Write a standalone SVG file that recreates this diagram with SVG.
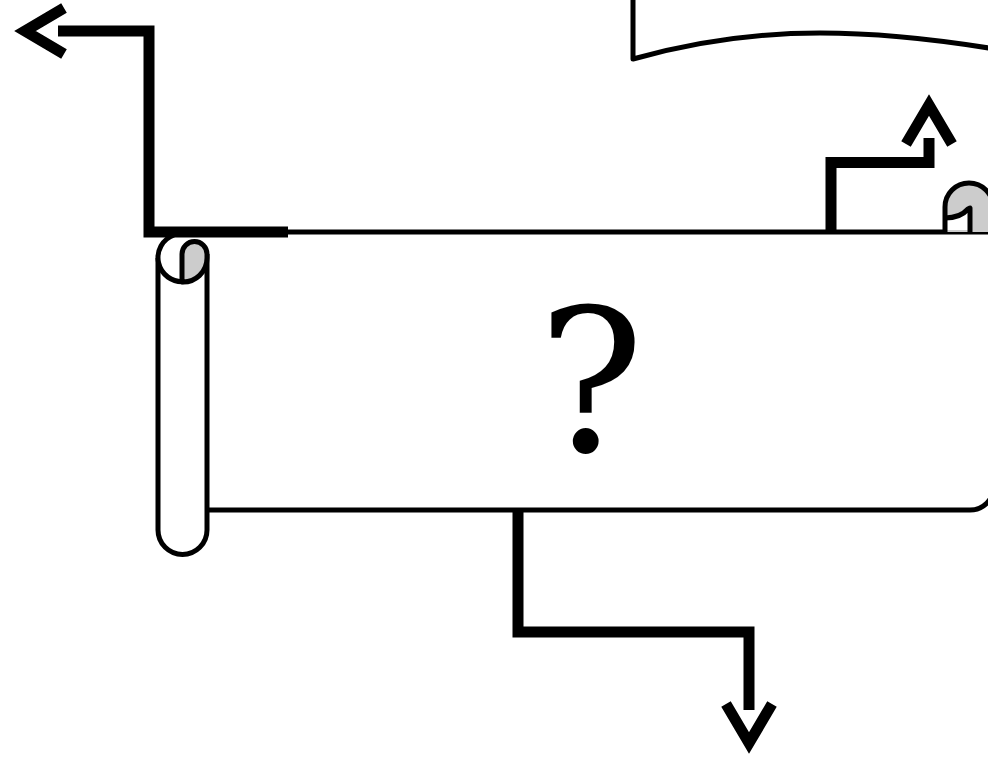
<svg xmlns="http://www.w3.org/2000/svg" width="988" height="758" viewBox="0 0 988 758">
  <defs>
    <style>
      .shape { stroke: #000; stroke-width: 5; stroke-linejoin: round; }
      .conn { fill: none; stroke: #000; stroke-width: 11; stroke-linejoin: miter; stroke-linecap: butt; }
      .label { font-family: "DejaVu Serif", "Liberation Serif", serif; font-size: 198px; fill: #000; }
    </style>
    <marker id="openArrow" markerUnits="userSpaceOnUse" markerWidth="100" markerHeight="100" refX="0" refY="0" orient="auto" overflow="visible" viewBox="-50 -50 100 100">
      <path d="M-6,-23 L33,0 L-6,23" fill="none" stroke="#000" stroke-width="11" stroke-linejoin="miter" stroke-miterlimit="10"/>
    </marker>
  </defs>
  <rect width="988" height="758" fill="#fff"/>

  <g id="document">
    <path class="shape" fill="#fff" d="M633,-5 V59 C700,40 760,33 820,33 C880,33 940,40 995,49 V-5 Z"/>
  </g>

  <g id="scroll">
    <path fill="#fff" stroke="none" d="M182,232 H996 V486 A24,24 0 0 1 972,510 H207 Z"/>
    <path class="shape" fill="none" d="M182,232 H996"/>
    <path class="shape" fill="none" d="M207,510 H970 A24,24 0 0 0 994,486"/>
    <path fill="#ccc" stroke="none" d="M945,232 V207 A24,24 0 0 1 993,207 V232 Z"/>
    <path fill="#fff" stroke="none" d="M945,230 V218 C953,218 962,216 968,209 L970,209 V230 Z"/>
    <path class="shape" fill="none" d="M945,232 V207 A24,24 0 0 1 993,207"/>
    <path class="shape" fill="none" d="M945,218 C953,218 962,216 968,209 L970,208 V232"/>
    <path class="shape" fill="#fff" d="M158,258 V530 A24.5,24.5 0 0 0 207,530 V254"/>
    <path class="shape" fill="#fff" d="M174,235 A24,24 0 1 0 206,258"/>
    <path class="shape" fill="#ccc" d="M182,282 V254 A12.5,12.5 0 0 1 207,254 V258 A24,24 0 0 1 182,282 Z"/>
    <text class="label" x="591" y="451" text-anchor="middle">?</text>
  </g>

  <g id="connectors">
    <path class="conn" d="M288,232 H149 V31 H58" marker-end="url(#openArrow)"/>
    <path class="conn" d="M831,232 V162.5 H929 V138" marker-end="url(#openArrow)"/>
    <path class="conn" d="M518,510 V632 H749 V710" marker-end="url(#openArrow)"/>
  </g>
</svg>
